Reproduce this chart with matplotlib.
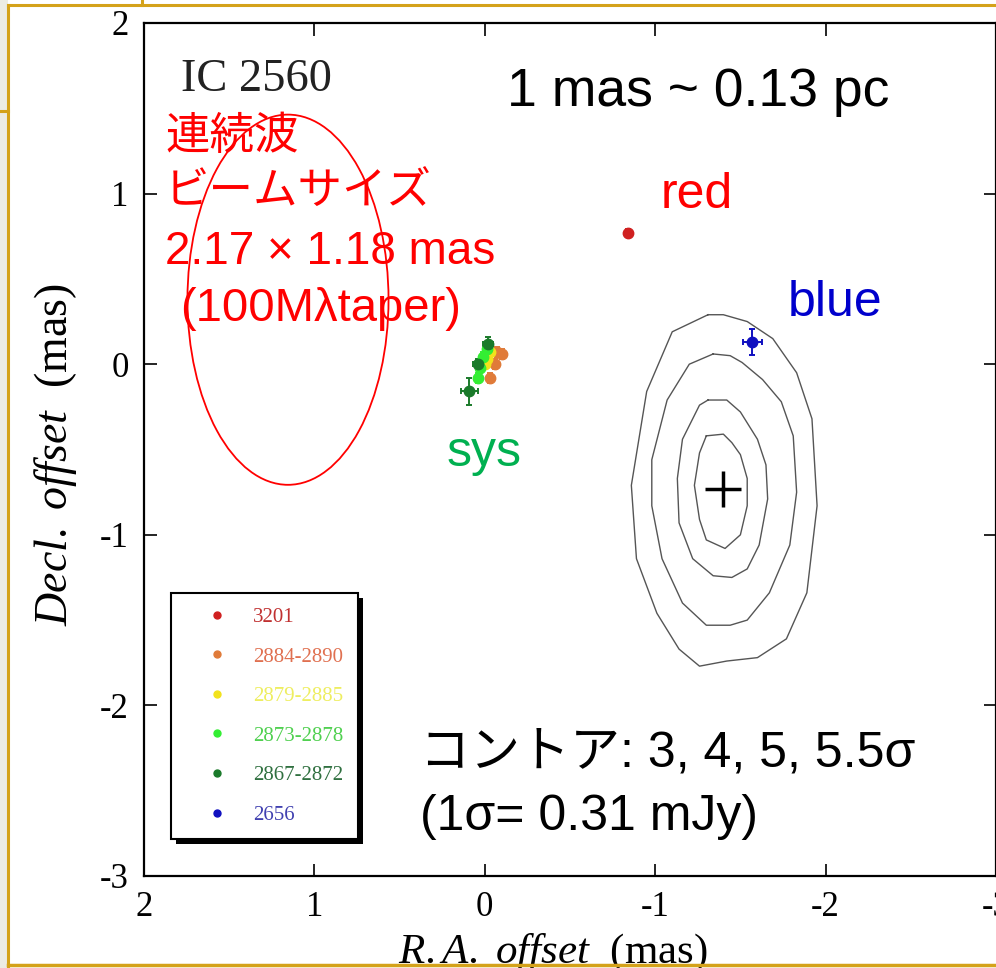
import matplotlib
matplotlib.use("Agg")
import matplotlib.pyplot as plt
import numpy as np
from matplotlib.patches import Ellipse, Rectangle
from matplotlib.lines import Line2D
from matplotlib.transforms import IdentityTransform

plt.rcParams['axes.unicode_minus'] = False
plt.rcParams['mathtext.fontset'] = 'custom'
plt.rcParams['mathtext.rm'] = 'Liberation Serif'
plt.rcParams['mathtext.it'] = 'Liberation Serif:italic'

# maser spot positions (mas) and errors
red_x, red_y = [-0.84], [0.77]
red_xe, red_ye = [0.02], [0.02]

orange_x = [-0.07, -0.10, -0.06, -0.03]
orange_y = [0.07, 0.06, 0.00, -0.08]
yellow_x = [-0.03, -0.01, 0.00]
yellow_y = [0.07, 0.03, 0.00]
lgreen_x = [-0.01, 0.01, 0.03, 0.04]
lgreen_y = [0.09, 0.04, -0.02, -0.08]
dgreen_x = [-0.02, 0.04, 0.09]
dgreen_y = [0.12, 0.00, -0.16]
dgreen_xe = [0.03, 0.03, 0.05]
dgreen_ye = [0.04, 0.03, 0.08]

blue_x, blue_y = [-1.57], [0.13]
blue_xe, blue_ye = [0.055], [0.075]

# continuum peak
peak_x, peak_y = -1.40, -0.73

# continuum contours (3, 4, 5, 5.5 sigma)
c3_x = [-1.31, -1.10, -0.95, -0.86, -0.89, -1.01, -1.14, -1.26, -1.42, -1.60, -1.77, -1.89, -1.95, -1.92, -1.83, -1.69, -1.54, -1.40]
c3_y = [0.29, 0.19, -0.16, -0.71, -1.14, -1.46, -1.67, -1.77, -1.74, -1.72, -1.61, -1.34, -0.83, -0.32, -0.05, 0.15, 0.25, 0.29]
c4_x = [-1.34, -1.20, -1.07, -0.98, -0.98, -1.04, -1.16, -1.30, -1.44, -1.54, -1.67, -1.79, -1.83, -1.81, -1.74, -1.63, -1.51, -1.44]
c4_y = [0.06, 0.00, -0.21, -0.56, -0.83, -1.14, -1.40, -1.53, -1.53, -1.50, -1.34, -1.06, -0.75, -0.42, -0.22, -0.09, 0.01, 0.05]
c5_x = [-1.31, -1.26, -1.16, -1.13, -1.14, -1.22, -1.34, -1.45, -1.54, -1.61, -1.66, -1.65, -1.60, -1.50, -1.42]
c5_y = [-0.21, -0.24, -0.44, -0.67, -0.93, -1.14, -1.24, -1.25, -1.20, -1.06, -0.79, -0.59, -0.44, -0.28, -0.21]
c55_x = [-1.30, -1.26, -1.23, -1.26, -1.30, -1.41, -1.50, -1.54, -1.54, -1.50, -1.45, -1.40]
c55_y = [-0.42, -0.52, -0.71, -0.91, -1.03, -1.08, -1.00, -0.83, -0.67, -0.53, -0.46, -0.41]

# beam
beam_x, beam_y = 1.155, 0.378
beam_major, beam_minor = 2.17, 1.18

legend_labels = ['3201', '2884-2890', '2879-2885', '2873-2878', '2867-2872', '2656']
marker_colors = ['#d02020', '#e07b39', '#f2e21c', '#33ee33', '#1a7a2a', '#1010c0']
text_colors = ['#c03030', '#e07050', '#eeee60', '#50d050', '#307040', '#4040b0']

W, H = 996, 968
fig = plt.figure(figsize=(W / 100, H / 100), dpi=100)
fig.patch.set_facecolor('white')

def fx(px):
    return px / W

def fy(py):
    return 1 - py / H

# slide decoration
gold = '#d4a21a'
fig.add_artist(Rectangle((0, 0), fx(8), 1, transform=fig.transFigure, facecolor='#ecece4', edgecolor='none'))
fig.add_artist(Line2D([fx(8), 1], [fy(5), fy(5)], color=gold, lw=2.2))
fig.add_artist(Line2D([fx(8), fx(8)], [fy(5), 0], color=gold, lw=2.2))
fig.add_artist(Line2D([fx(8), 1], [fy(965), fy(965)], color=gold, lw=2.5))
fig.add_artist(Line2D([fx(142), fx(142)], [1, fy(5)], color=gold, lw=2.2))
fig.add_artist(Line2D([0, fx(8)], [fy(111), fy(111)], color=gold, lw=2.2))

ax = fig.add_axes([fx(144), fy(876), 852 / W, 853 / H])
ax.set_xlim(2, -3)
ax.set_ylim(-3, 2)
ax.set_xticks([2, 1, 0, -1, -2, -3])
ax.set_yticks([2, 1, 0, -1, -2, -3])
ax.tick_params(direction='in', length=9, width=1.2, top=True, right=True,
               labelsize=25, pad=11)
for lab in ax.get_xticklabels() + ax.get_yticklabels():
    lab.set_family('Liberation Serif')
for sp in ax.spines.values():
    sp.set_linewidth(1.6)

ax.set_xlabel(r'$\mathit{R.A.\ offset}$  (mas)', fontsize=31, family='Liberation Serif')
ax.set_ylabel(r'$\mathit{Decl.\ offset}$  (mas)', fontsize=33, family='Liberation Serif')
ax.xaxis.set_label_coords(0.48, -0.066)
ax.yaxis.set_label_coords(-0.076, 0.494)

# contours
for cx, cy in [(c3_x, c3_y), (c4_x, c4_y), (c5_x, c5_y), (c55_x, c55_y)]:
    ax.plot(np.append(cx, cx[0]), np.append(cy, cy[0]), color='#555555', lw=1.0)
ax.plot(peak_x, peak_y, marker='+', markersize=26, mew=2.5, color='black')

# beam
ax.add_patch(Ellipse((beam_x, beam_y), beam_minor, beam_major, angle=0,
                     facecolor='none', edgecolor='red', lw=1.3))

# maser spots
ekw = dict(fmt='o', markersize=7.5, capsize=2.5, elinewidth=1.4, capthick=1.4)
ax.errorbar(red_x, red_y, xerr=red_xe, yerr=red_ye, color=marker_colors[0], **ekw)
ax.errorbar(orange_x, orange_y, xerr=0.02, yerr=0.03, color=marker_colors[1], **ekw)
ax.errorbar(yellow_x, yellow_y, xerr=0.02, yerr=0.03, color=marker_colors[2], **ekw)
ax.errorbar(lgreen_x, lgreen_y, xerr=0.02, yerr=0.03, color=marker_colors[3], **ekw)
ax.errorbar(dgreen_x, dgreen_y, xerr=dgreen_xe, yerr=dgreen_ye, color=marker_colors[4], **ekw)
ax.errorbar(blue_x, blue_y, xerr=blue_xe, yerr=blue_ye, color=marker_colors[5], **ekw)

# annotations
ax.text(1.78, 1.60, 'IC 2560', fontsize=33.5, family='Liberation Serif', color='#222222')
ax.text(-0.13, 1.515, '1 mas ~ 0.13 pc', fontsize=38.5, family='Liberation Sans', color='black')
jp = ['Liberation Sans', 'Noto Sans CJK JP']
ax.text(1.877, 1.26, '連続波', fontsize=32, family=jp, color='red')
ax.text(1.877, 0.94, 'ビームサイズ', fontsize=32, family=jp, color='red')
ax.text(1.877, 0.59, '2.17 × 1.18 mas', fontsize=33, family=jp, color='red')
ax.text(1.79, 0.255, '(100Mλtaper)', fontsize=34, family=jp, color='red')
ax.text(-1.03, 0.917, 'red', fontsize=36, family='Liberation Sans', color='red')
ax.text(-1.78, 0.284, 'blue', fontsize=36, family='Liberation Sans', color='#0000cc')
ax.text(0.222, -0.595, 'sys', fontsize=36, family='Liberation Sans', color='#00b050')
ax.text(0.38, -2.36, 'コントア: 3, 4, 5, 5.5σ', fontsize=36, family=jp, color='black')
ax.text(0.38, -2.73, '(1σ= 0.31 mJy)', fontsize=36, family=jp, color='black')

# legend
handles = [Line2D([], [], ls='none', marker='o', markersize=5, color=c) for c in marker_colors]
leg = ax.legend(handles, legend_labels, loc='upper left', bbox_to_anchor=(0.0317, 0.332),
                borderaxespad=0, prop={'family': 'Liberation Serif', 'size': 15},
                labelcolor=text_colors, frameon=True, fancybox=False,
                borderpad=0.7, handlelength=3.0, handletextpad=0.25, labelspacing=0.96)
leg.get_frame().set_edgecolor('black')
leg.get_frame().set_linewidth(1.5)
leg.get_frame().set_alpha(1)
leg.set_zorder(10)

fig.canvas.draw()
bb = leg.get_window_extent(fig.canvas.get_renderer())
shadow = Rectangle((bb.x0 + 5, bb.y0 - 5), bb.width, bb.height, transform=IdentityTransform(),
                   facecolor='black', edgecolor='none', zorder=9, clip_on=False)
ax.add_artist(shadow)

fig.savefig('out.png', dpi=100)
